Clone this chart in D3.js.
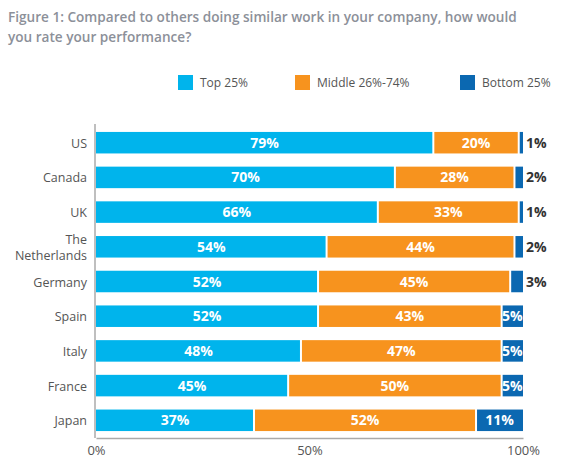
<!DOCTYPE html>
<html><head><meta charset="utf-8">
<script src="https://cdn.jsdelivr.net/npm/d3@7"></script>
<style>body{margin:0;background:#fff;}svg{display:block;}</style>
</head><body>
<script>
const categories = ["US","Canada","UK","The Netherlands","Germany","Spain","Italy","France","Japan"];
const top25 = [79,70,66,54,52,52,48,45,37];
const middle = [20,28,33,44,45,43,47,50,52];
const bottom = [1,2,1,2,3,5,5,5,11];
const seriesNames = ["Top 25%","Middle 26%-74%","Bottom 25%"];
const colors = ["#00b4ec","#f7931e","#0b68b1"];
const tickValues = [0,50,100];

const W=580,H=472;
const svg=d3.select("body").append("svg").attr("width",W).attr("height",H);
const font="'Open Sans', Lato, sans-serif";

svg.append("text").attr("x",8).attr("y",22).attr("font-family",font).attr("font-size",13.6).attr("font-weight",600).attr("fill","#8c9099")
  .text("Figure 1: Compared to others doing similar work in your company, how would");
svg.append("text").attr("x",8).attr("y",42).attr("font-family",font).attr("font-size",13.6).attr("font-weight",600).attr("fill","#8c9099")
  .text("you rate your performance?");

// legend
const legX=[178,295,460];
seriesNames.forEach((n,i)=>{
  svg.append("rect").attr("x",legX[i]).attr("y",75).attr("width",15).attr("height",15).attr("fill",colors[i]);
  svg.append("text").attr("x",legX[i]+22).attr("y",87).attr("font-family",font).attr("font-size",12).attr("fill","#555").text(n);
});

const x=d3.scaleLinear().domain([0,100]).range([96,523]);
const y=d3.scaleBand().domain(categories).range([125,438]).paddingInner(0.38).paddingOuter(0.2);

const data=categories.map((c,i)=>({cat:c,top:top25[i],mid:middle[i],bot:bottom[i]}));
const stack=d3.stack().keys(["top","mid","bot"])(data);

stack.forEach((s,si)=>{
  svg.append("g").selectAll("rect").data(s).join("rect")
    .attr("x",d=>x(d[0])+(si>0?1:0))
    .attr("y",d=>y(d.data.cat))
    .attr("width",d=>Math.max(1.5,x(d[1])-x(d[0])-(si>0?1:0)-(si<2?1:0)))
    .attr("height",y.bandwidth())
    .attr("fill",colors[si]);
  svg.append("g").selectAll("text").data(s).join("text")
    .attr("x",d=>{const v=d[1]-d[0]; return (si==2 && v<5)? x(d[1])+3 : (x(d[0])+x(d[1]))/2;})
    .attr("y",d=>y(d.data.cat)+y.bandwidth()/2+5)
    .attr("text-anchor",d=>{const v=d[1]-d[0]; return (si==2 && v<5)?"start":"middle";})
    .attr("font-family",font).attr("font-size",14).attr("font-weight",700)
    .attr("fill",d=>{const v=d[1]-d[0]; return (si==2 && v<5)?"#333":"#fff";})
    .text(d=>(d[1]-d[0])+"%");
});

// category labels
const lab=svg.append("g");
categories.forEach(c=>{
  const cy=y(c)+y.bandwidth()/2;
  const words = c==="The Netherlands" ? ["The","Netherlands"] : [c];
  const t=lab.append("text").attr("x",87).attr("text-anchor","end").attr("font-family",font).attr("font-size",12.5).attr("fill","#555");
  words.forEach((w,i)=>{
    t.append("tspan").attr("x",87).attr("y",cy+5+(i-(words.length-1)/2)*16).text(w);
  });
});

// axes
svg.append("line").attr("x1",95).attr("x2",95).attr("y1",124).attr("y2",438).attr("stroke","#aaa").attr("stroke-width",1.5);
const ax=svg.append("g").attr("transform","translate(0,438)").call(d3.axisBottom(x).tickValues(tickValues).tickFormat(d=>d+"%").tickSize(0).tickPadding(8));
ax.select(".domain").attr("stroke","#aaa").attr("stroke-width",1.5);
ax.selectAll("text").attr("font-family",font).attr("font-size",13).attr("fill","#555");
</script>
</body></html>
